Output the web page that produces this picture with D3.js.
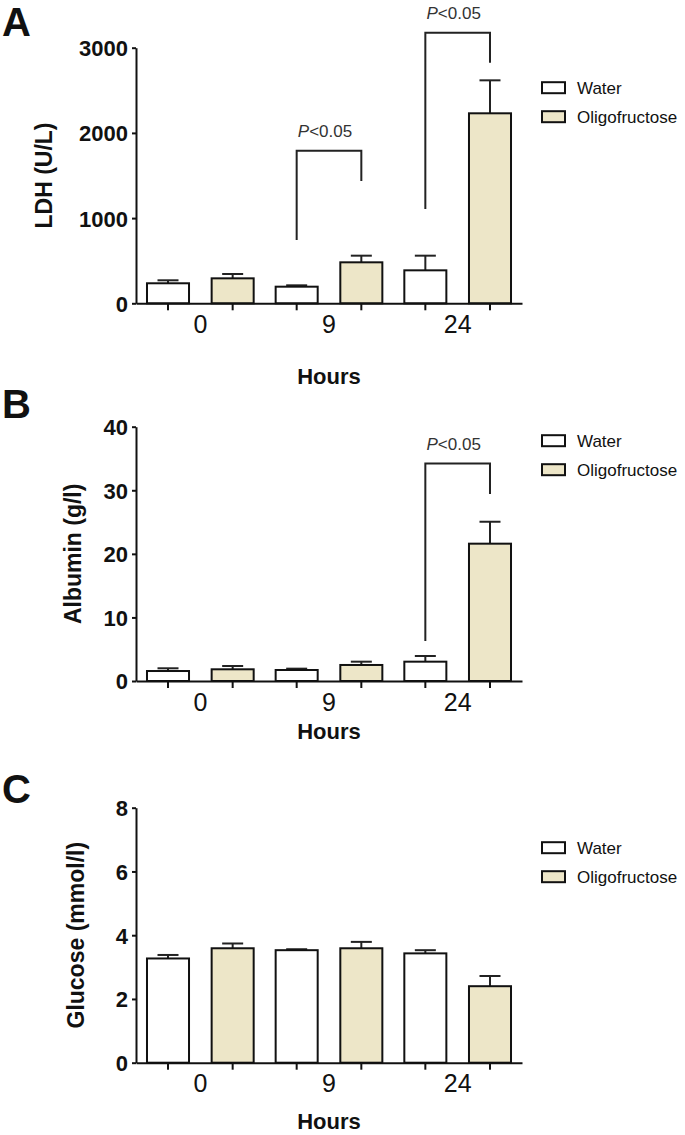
<!DOCTYPE html>
<html>
<head>
<meta charset="utf-8">
<script src="https://cdn.jsdelivr.net/npm/d3@7"></script>
<style>
  body { margin: 0; background: #fff; }
  text { font-family: "Liberation Sans", Arial, Helvetica, sans-serif; fill: #111; }
</style>
</head>
<body>
<svg id="chart" width="685" height="1135"></svg>
<script>
var hours = ["0", "9", "24"];
var groups = ["Water", "Oligofructose"];

// LDH (U/L), mean and SEM
var ldhWater = [235, 195, 387], ldhWaterSem = [35, 16, 172];
var ldhOligo = [293, 481, 2230], ldhOligoSem = [51, 78, 387];
var ldhTicks = [0, 1000, 2000, 3000];
var ldhSig = [
  {hour: "9", top: 1791, left: 743, right: 1435},
  {hour: "24", top: 3176, left: 1107, right: 2824}
];

// Albumin (g/l)
var albWater = [1.57, 1.73, 3.04], albWaterSem = [0.43, 0.21, 0.89];
var albOligo = [1.84, 2.52, 21.6], albOligoSem = [0.52, 0.52, 3.45];
var albTicks = [0, 10, 20, 30, 40];
var albSig = [{hour: "24", top: 34.2, left: 6.3, right: 29.4}];

// Glucose (mmol/l)
var gluWater = [3.27, 3.53, 3.43], gluWaterSem = [0.11, 0.03, 0.10];
var gluOligo = [3.59, 3.59, 2.40], gluOligoSem = [0.15, 0.20, 0.32];
var gluTicks = [0, 2, 4, 6, 8];
var gluSig = [];

var fills = {Water: "#ffffff", Oligofructose: "#ede6c8"};

var svg = d3.select("#chart");

var panels = [
  {letter: "A", letterY: 36, title: "LDH (U/L)", titleX: 52,
   water: ldhWater, waterSem: ldhWaterSem, oligo: ldhOligo, oligoSem: ldhOligoSem,
   ticks: ldhTicks, sig: ldhSig, top: 47.7, bottom: 303.3, hoursGap: 81, legendGap: 40},
  {letter: "B", letterY: 418, title: "Albumin (g/l)", titleX: 81,
   water: albWater, waterSem: albWaterSem, oligo: albOligo, oligoSem: albOligoSem,
   ticks: albTicks, sig: albSig, top: 426.7, bottom: 681, hoursGap: 58, legendGap: 14},
  {letter: "C", letterY: 803, title: "Glucose (mmol/l)", titleX: 84,
   water: gluWater, waterSem: gluWaterSem, oligo: gluOligo, oligoSem: gluOligoSem,
   ticks: gluTicks, sig: gluSig, top: 807.7, bottom: 1062.7, hoursGap: 66, legendGap: 40}
];

panels.forEach(drawPanel);

function drawPanel(p) {
  var max = d3.max(p.ticks);
  var y = d3.scaleLinear().domain([0, max]).range([p.bottom, p.top]);
  var x = d3.scaleBand().domain(hours).range([136, 522]);
  var xs = d3.scaleBand().domain(groups).range([0, x.bandwidth()])
    .paddingInner(0.35).paddingOuter(0.17);
  var g = svg.append("g");

  g.append("text").text(p.letter)
    .attr("x", 2).attr("y", p.letterY)
    .style("font-size", "40px").style("font-weight", "bold");

  var rows = [];
  hours.forEach(function(h, i) {
    rows.push({hour: h, group: "Water", v: p.water[i], e: p.waterSem[i]});
    rows.push({hour: h, group: "Oligofructose", v: p.oligo[i], e: p.oligoSem[i]});
  });
  function cx(d) { return x(d.hour) + xs(d.group) + xs.bandwidth() / 2; }

  // error bars (upper only)
  g.selectAll(".err").data(rows).enter().append("line")
    .attr("x1", cx).attr("x2", cx)
    .attr("y1", function(d) { return y(d.v); })
    .attr("y2", function(d) { return y(d.v + d.e); })
    .attr("stroke", "#222").attr("stroke-width", 2);
  g.selectAll(".cap").data(rows).enter().append("line")
    .attr("x1", function(d) { return cx(d) - xs.bandwidth() / 4; })
    .attr("x2", function(d) { return cx(d) + xs.bandwidth() / 4; })
    .attr("y1", function(d) { return y(d.v + d.e); })
    .attr("y2", function(d) { return y(d.v + d.e); })
    .attr("stroke", "#222").attr("stroke-width", 2);

  g.selectAll(".bar").data(rows).enter().append("rect")
    .attr("x", function(d) { return x(d.hour) + xs(d.group); })
    .attr("width", xs.bandwidth())
    .attr("y", function(d) { return y(d.v); })
    .attr("height", function(d) { return y(0) - y(d.v); })
    .attr("fill", function(d) { return fills[d.group]; })
    .attr("stroke", "#111").attr("stroke-width", 2);

  // y axis
  var ya = g.append("g").attr("transform", "translate(136,0)")
    .call(d3.axisLeft(y).tickValues(p.ticks).tickSize(4).tickSizeOuter(0)
      .tickPadding(4).tickFormat(d3.format("d")));
  ya.selectAll("text").style("font-size", "22px").style("font-weight", "bold")
    .attr("fill", "#111").attr("dy", "0.36em");

  // x axis: group labels, ticks at bar centres
  var xa = g.append("g").attr("transform", "translate(0," + y(0) + ")")
    .call(d3.axisBottom(x).tickSize(0).tickSizeOuter(0).tickPadding(12));
  xa.selectAll("text").style("font-size", "25px").attr("fill", "#111");
  g.selectAll(".xt").data(rows).enter().append("line")
    .attr("x1", cx).attr("x2", cx)
    .attr("y1", y(0)).attr("y2", y(0) + 7)
    .attr("stroke", "#111").attr("stroke-width", 2);
  g.selectAll(".domain, .tick line").attr("stroke", "#111").attr("stroke-width", 2);

  g.append("text").text("Hours")
    .attr("x", (x.range()[0] + x.range()[1]) / 2).attr("y", y(0) + p.hoursGap)
    .attr("text-anchor", "middle")
    .style("font-size", "22px").style("font-weight", "bold");

  g.append("text").text(p.title)
    .attr("transform", "translate(" + p.titleX + "," + (p.top + p.bottom) / 2 + ") rotate(-90)")
    .attr("text-anchor", "middle")
    .style("font-size", "23px").style("font-weight", "bold");

  // significance brackets
  p.sig.forEach(function(s) {
    var lx = x(s.hour) + xs("Water") + xs.bandwidth() / 2;
    var rx = x(s.hour) + xs("Oligofructose") + xs.bandwidth() / 2;
    g.append("path")
      .attr("d", "M" + lx + "," + y(s.left) + "V" + y(s.top) + "H" + rx + "V" + y(s.right))
      .attr("fill", "none").attr("stroke", "#222").attr("stroke-width", 2);
    var t = g.append("text")
      .attr("x", (lx + rx) / 2 - 4).attr("y", y(s.top) - 14)
      .attr("text-anchor", "middle")
      .style("font-size", "17px").style("fill", "#333");
    t.append("tspan").text("P").style("font-style", "italic");
    t.append("tspan").text("<0.05");
  });

  // legend
  var lg = g.selectAll(".leg").data(groups).enter().append("g")
    .attr("transform", function(d, i) { return "translate(542," + (p.top + p.legendGap + i * 29) + ")"; });
  lg.append("rect").attr("x", 0).attr("y", -5.5).attr("width", 23).attr("height", 11)
    .attr("fill", function(d) { return fills[d]; })
    .attr("stroke", "#111").attr("stroke-width", 2);
  lg.append("text").text(function(d) { return d; })
    .attr("x", 35).attr("y", 6)
    .style("font-size", "17px");
}
</script>
</body>
</html>
